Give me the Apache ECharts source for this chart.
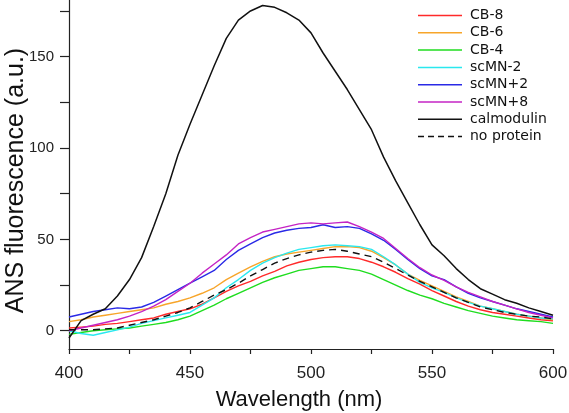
<!DOCTYPE html>
<html>
<head>
<meta charset="utf-8">
<script src="https://cdn.jsdelivr.net/npm/echarts@6/dist/echarts.min.js"></script>
<style>
html,body{margin:0;padding:0;background:#fff;}
#chart{width:569px;height:413px;}
</style>
</head>
<body>
<div id="chart"></div>
<script>
const wavelengths = [400,405,410,415,420,425,430,435,440,445,450,455,460,465,470,475,480,485,490,495,500,505,510,515,520,525,530,535,540,545,550,555,560,565,570,575,580,585,590,595,600];
const cb8 = [1.5,2,2.5,3.5,4,5,6,7,9,10.5,12,14.5,18,21.5,24.5,27,30,32.5,35.5,37.5,39,40,40.5,40.5,39.5,37.5,35,32,28.5,25.5,22,19,16,13.5,11.5,10,9,8,7,6,5.5];
const cb6 = [5,6,7.5,8.5,9.5,10.5,11.5,12.5,14.5,16,18,20.5,23.5,28,31.5,35,38,40.5,42,43,44,45,46,46,45.5,43.5,40,36,31,27.5,24.5,21.5,18.5,16,13.5,12,10.5,9,8,7,6];
const cb4 = [-2,-1,0,0.5,1,1.5,2.5,3.5,4.5,6,8,11,14,17.5,20.5,23.5,26.5,29,31,33,34,35,35,34,33,31,28,25,22,19.5,17.5,15,13,11,9.5,8,7,6,5.5,5,4];
const scMNm2 = [0,-1.5,-2.5,-1,0.5,2,4,5.5,7,8.5,10,14,18,23.5,28,33,37,40,42.5,44.5,45.5,46.5,47,46.5,46,44.5,40.5,36,31,26.5,23.5,21,18,15.5,13.5,12,10.5,9,8,7,6.5];
const scMNp2 = [7.5,9,10.5,11.5,12.5,12,13,15.5,19,22.5,26,29.5,33,39,44,47.5,51,53.5,55,56,56.5,58,56.5,57,56,53,49.5,44.5,39,34,30,28,24,20.5,18,16,14,12,10.5,9,7.5];
const scMNp8 = [0,1.5,3,4.5,6,8,10.5,13.5,17,21.5,26,31.5,36.5,41.5,47.5,51,54,55.5,57,58.5,59,58.5,59,59.5,57,54,50.5,45,39.5,34.5,30.5,27.5,24,21,18.5,16,14,12,10,8.5,7];
const calmodulin = [-4,5.5,9,12,19,28,40,57,75,96,113,129,145,160,170,175,178,177,174,170,163,152,142,132,121,110,95,82,70,58,47,41,34,28,23,20,17,15,12.5,10.5,8.5];
const noProtein = [0.5,0.5,0.5,1,1.5,3,4.5,6,8,10,12.5,16,19.5,22.5,26,30,33.5,37,39.5,41.5,43,44,44.5,43.5,42,40.5,37.5,34,30.5,27,24,21,18,15.5,13,11.5,10,9,8,7.5,6.5];

const seriesNames = ['CB-8','CB-6','CB-4','scMN-2','scMN+2','scMN+8','calmodulin','no protein'];
const seriesValues = [cb8, cb6, cb4, scMNm2, scMNp2, scMNp8, calmodulin, noProtein];
const seriesColors = ['#ff2a2a','#f7a52a','#1fdd1f','#2ae8ee','#2a2ae6','#c424c4','#111111','#111111'];

const xTickLabels = [400,450,500,550,600];
const xTicks = [400,425,450,475,500,525,550,575,600];
const yTickLabels = [0,50,100,150];
const yTicks = [0,25,50,75,100,125,150,175];

const chart = echarts.init(document.getElementById('chart'), null, {renderer:'canvas'});
const font = 'Liberation Sans, Arial, sans-serif';

const solidIcon = 'path://M0,0L44,0L44,1.5L0,1.5Z';
const dashedIcon = 'path://M0,0h6v1.5h-6zM10,0h6v1.5h-6zM20,0h6v1.5h-6zM30,0h6v1.5h-6zM40,0h4v1.5h-4z';

const series = seriesNames.map((name, i) => ({
  name: name,
  type: 'line',
  symbol: 'none',
  smooth: false,
  data: wavelengths.map((w, j) => [w, seriesValues[i][j]]),
  lineStyle: {
    color: seriesColors[i],
    width: name === 'calmodulin' ? 1.5 : 1.4,
    type: name === 'no protein' ? [7,5] : 'solid'
  },
  itemStyle: {color: seriesColors[i]},
  z: name === 'no protein' ? 5 : 3
}));

chart.setOption({
  animation: false,
  backgroundColor: '#ffffff',
  grid: {left: 69, right: 16, top: 0, bottom: 64, containLabel: false, outerBoundsMode: 'none'},
  legend: {
    orient: 'vertical',
    left: 418,
    top: 8.5,
    padding: 0,
    itemWidth: 44,
    itemHeight: 1.5,
    itemGap: 3.3,
    textStyle: {fontFamily: 'DejaVu Sans, sans-serif', fontSize: 14, color: '#111', lineHeight: 14, padding: [0,0,0,3]},
    data: seriesNames.map(n => ({name: n, icon: n === 'no protein' ? dashedIcon : solidIcon}))
  },
  xAxis: {
    type: 'value',
    min: 400, max: 600,
    name: 'Wavelength (nm)',
    nameLocation: 'middle',
    nameGap: 40,
    nameMoveOverlap: false,
    nameTextStyle: {fontFamily: font, fontSize: 22, color: '#111', padding: [0, 24, 0, 0]},
    axisLine: {show: true, onZero: false, lineStyle: {color: '#222', width: 1.2}},
    axisTick: {show: true, inside: false, length: 5, customValues: xTicks, lineStyle: {color: '#222', width: 1.2}},
    axisLabel: {show: true, margin: 16, customValues: xTickLabels, fontFamily: font, fontSize: 17, color: '#222'},
    splitLine: {show: false}
  },
  yAxis: {
    type: 'value',
    min: -10, max: 181,
    name: 'ANS fluorescence (a.u.)',
    nameLocation: 'middle',
    nameGap: 40,
    nameMoveOverlap: false,
    nameTextStyle: {fontFamily: font, fontSize: 25, color: '#111', padding: [0, 12, 0, 0]},
    axisLine: {show: true, onZero: false, lineStyle: {color: '#222', width: 1.2}},
    axisTick: {show: true, inside: false, length: 9, customValues: yTicks, lineStyle: {color: '#222', width: 1.2}},
    axisLabel: {show: true, margin: 15, customValues: yTickLabels, fontFamily: font, fontSize: 15, color: '#222'},
    splitLine: {show: false}
  },
  series: series
});
</script>
</body>
</html>
